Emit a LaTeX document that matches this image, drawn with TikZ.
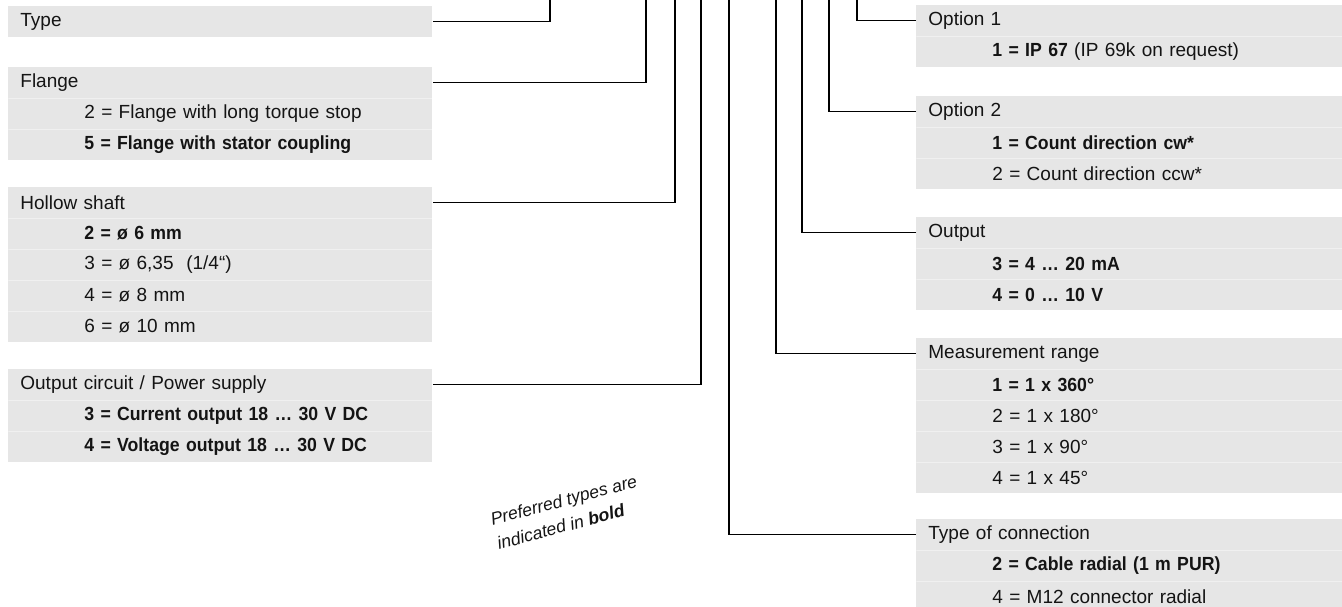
\documentclass[tikz,border=0pt]{standalone}
\usepackage{fontspec}
\setmainfont{Liberation Sans}[BoldFeatures={FakeStretch=0.93}]
\usetikzlibrary{positioning}

\definecolor{boxgray}{HTML}{E6E6E6}
\definecolor{rulegray}{HTML}{F0F0F0}
\definecolor{inkgray}{HTML}{141414}

\tikzset{
  hd/.style={fill=boxgray, text=inkgray, font=\fontsize{9.5pt}{11pt}\selectfont,
    minimum height=15.1pt, text width=200pt, inner xsep=6pt, inner ysep=0pt, align=left},
  rhd/.style={hd, text width=201pt},
  sub/.style={below=0pt of #1, execute at begin node={\hspace*{32pt}},
    path picture={\draw[rulegray, line width=0.6pt] (path picture bounding box.north west)
      -- (path picture bounding box.north east);}},
  lead/.style={line width=0.7pt, black},
}

\begin{document}
\begin{tikzpicture}[x=0.5pt, y=-0.5pt]
  \useasboundingbox (0,0) rectangle (1342,606);
  \clip (0,0) rectangle (1342,606);

  % left column
  \node[hd, anchor=north west] (type) at (8,6) {Type};

  \node[hd, anchor=north west] (flange) at (8,67) {Flange};
  \node[hd, sub=flange] (flange2) {2 = Flange with long torque stop};
  \node[hd, sub=flange2] (flange5) {\textbf{5 = Flange with stator coupling}};

  \node[hd, anchor=north west] (shaft) at (8,187) {Hollow shaft};
  \node[hd, sub=shaft] (shaft2) {\textbf{2 = ø 6 mm}};
  \node[hd, sub=shaft2] (shaft3) {3 = ø 6,35\ \ (1/4“)};
  \node[hd, sub=shaft3] (shaft4) {4 = ø 8 mm};
  \node[hd, sub=shaft4] (shaft6) {6 = ø 10 mm};

  \node[hd, anchor=north west] (supply) at (8,369) {Output circuit / Power supply};
  \node[hd, sub=supply] (supply3) {\textbf{3 = Current output 18 … 30 V DC}};
  \node[hd, sub=supply3] (supply4) {\textbf{4 = Voltage output 18 … 30 V DC}};

  % right column
  \node[rhd, anchor=north west] (opt1) at (916,5) {Option 1};
  \node[rhd, sub=opt1] (opt1a) {\textbf{1 = IP 67} (IP 69k on request)};

  \node[rhd, anchor=north west] (opt2) at (916,96) {Option 2};
  \node[rhd, sub=opt2] (opt2a) {\textbf{1 = Count direction cw*}};
  \node[rhd, sub=opt2a] (opt2b) {2 = Count direction ccw*};

  \node[rhd, anchor=north west] (output) at (916,217) {Output};
  \node[rhd, sub=output] (output3) {\textbf{3 = 4 … 20 mA}};
  \node[rhd, sub=output3] (output4) {\textbf{4 = 0 … 10 V}};

  \node[rhd, anchor=north west] (range) at (916,338) {Measurement range};
  \node[rhd, sub=range] (range1) {\textbf{1 = 1 x 360°}};
  \node[rhd, sub=range1] (range2) {2 = 1 x 180°};
  \node[rhd, sub=range2] (range3) {3 = 1 x 90°};
  \node[rhd, sub=range3] (range4) {4 = 1 x 45°};

  \node[rhd, anchor=north west] (conn) at (916,519) {Type of connection};
  \node[rhd, sub=conn] (conn2) {\textbf{2 = Cable radial (1 m PUR)}};
  \node[rhd, sub=conn2] (conn4) {4 = M12 connector radial};

  % leads up to the type code
  \coordinate (tType) at (550,0);
  \coordinate (tFlange) at (646,0);
  \coordinate (tShaft) at (675,0);
  \coordinate (tSupply) at (701,0);
  \coordinate (tConn) at (729,0);
  \coordinate (tRange) at (776,0);
  \coordinate (tOutput) at (802,0);
  \coordinate (tOpt2) at (829,0);
  \coordinate (tOpt1) at (857,0);

  \draw[lead] (type.east) -| (tType);
  \draw[lead] (flange.east) -| (tFlange);
  \draw[lead] (shaft.east) -| (tShaft);
  \draw[lead] (supply.east) -| (tSupply);
  \draw[lead] (conn.west) -| (tConn);
  \draw[lead] (range.west) -| (tRange);
  \draw[lead] (output.west) -| (tOutput);
  \draw[lead] (opt2.west) -| (tOpt2);
  \draw[lead] (opt1.west) -| (tOpt1);

  \node[rotate=15, align=left, text=inkgray, font=\itshape\fontsize{8.8pt}{12.5pt}\selectfont]
    (note) at (567,512) {Preferred types are\\indicated in \textbf{bold}};
\end{tikzpicture}
\end{document}
